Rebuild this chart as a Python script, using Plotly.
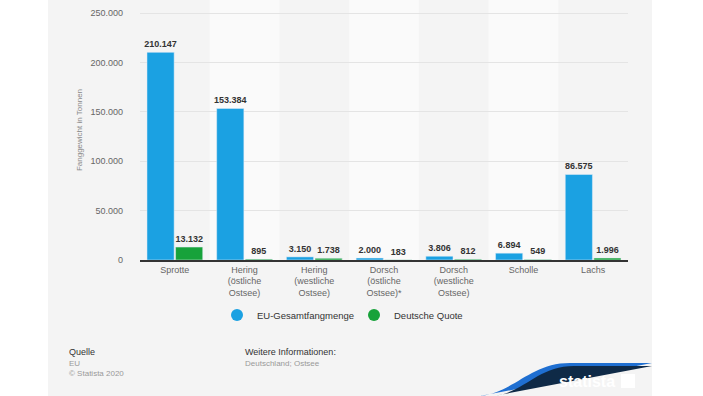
import plotly.graph_objects as go

categories = ["Sprotte", "Hering<br>(östliche<br>Ostsee)", "Hering<br>(westliche<br>Ostsee)",
              "Dorsch<br>(östliche<br>Ostsee)*", "Dorsch<br>(westliche<br>Ostsee)", "Scholle", "Lachs"]
eu_total = [210147, 153384, 3150, 2000, 3806, 6894, 86575]
de_quota = [13132, 895, 1738, 183, 812, 549, 1996]
y_ticks = [0, 50000, 100000, 150000, 200000, 250000]

W, H = 703, 396
L, R, T, B = 140, 628, 0, 260  # plot area in pixels


def px(x):
    return (x - L) / (R - L)


def py(y):
    return (B - y) / (B - T)


FONT = "Liberation Sans, Arial, sans-serif"
BLUE = "#1ba1e2"
GREEN = "#17a23a"
NAVY = "#0f2a47"

fig = go.Figure()
for name, vals, col in [("EU-Gesamtfangmenge", eu_total, BLUE), ("Deutsche Quote", de_quota, GREEN)]:
    fig.add_trace(go.Bar(name=name, x=categories, y=vals, marker_color=col, showlegend=False,
                         legendgroup=name,
                         texttemplate="<b>%{y:,d}</b>", textposition="outside", constraintext="none",
                         textfont=dict(size=9, color="#333333", family=FONT), cliponaxis=False))
for name, col in [("EU-Gesamtfangmenge", BLUE), ("Deutsche Quote", GREEN)]:
    fig.add_trace(go.Scatter(name=name, x=[categories[0]], y=[None], mode="markers", legendgroup=name,
                             marker=dict(symbol="circle", size=11, color=col), showlegend=True,
                             hoverinfo="skip"))

shapes = []
# gray page background
shapes.append(dict(type="rect", xref="paper", yref="paper", x0=px(48), x1=px(652), y0=py(396), y1=py(0),
                   fillcolor="#f4f4f4", line_width=0, layer="below"))
# alternating bands
for i in range(len(categories)):
    if i % 2 == 1:
        shapes.append(dict(type="rect", xref="x", yref="paper", x0=i - 0.5, x1=i + 0.5, y0=0, y1=1,
                           fillcolor="#fafafa", line_width=0, layer="below"))


def path(points_px):
    s = ""
    for cmd, pts in points_px:
        s += cmd + " " + " ".join(f"{px(x):.5f},{py(y):.5f}" for x, y in pts) + " "
    return s + "Z"


# statista banner
shapes.append(dict(type="path", xref="paper", yref="paper", layer="above", line_width=0, fillcolor="#1f6fd1",
                   path=path([("M", [(480, 396)]), ("C", [(515, 392), (530, 363), (570, 363)]),
                              ("L", [(652, 363), (652, 396)])])))
shapes.append(dict(type="path", xref="paper", yref="paper", layer="above", line_width=0, fillcolor=NAVY,
                   path=path([("M", [(494, 396)]), ("C", [(525, 392), (538, 366), (574, 366)]),
                              ("L", [(652, 366), (652, 396)])])))
shapes.append(dict(type="rect", xref="paper", yref="paper", layer="above", line_width=0, fillcolor="white",
                   x0=px(621), x1=px(635), y0=py(388), y1=py(374)))
shapes.append(dict(type="path", xref="paper", yref="paper", layer="above", line_width=0, fillcolor=NAVY,
                   path=path([("M", [(621, 384)]), ("L", [(628, 377), (635, 377), (635, 378), (629, 385), (621, 385)])])))

annotations = [
    dict(text="<b>statista</b>", x=px(557), y=py(381), xref="paper", yref="paper", showarrow=False,
         font=dict(size=16, color="white", family=FONT),
         xanchor="left", yanchor="middle"),
    dict(text="Quelle", x=px(67), y=py(352), xref="paper", yref="paper", showarrow=False,
         font=dict(size=9, color="#333333", family=FONT), xanchor="left", yanchor="middle"),
    dict(text="EU", x=px(67), y=py(363), xref="paper", yref="paper", showarrow=False,
         font=dict(size=8, color="#999999", family=FONT), xanchor="left", yanchor="middle"),
    dict(text="© Statista 2020", x=px(67), y=py(373), xref="paper", yref="paper", showarrow=False,
         font=dict(size=8, color="#999999", family=FONT), xanchor="left", yanchor="middle"),
    dict(text="Weitere Informationen:", x=px(243), y=py(352), xref="paper", yref="paper", showarrow=False,
         font=dict(size=9, color="#333333", family=FONT), xanchor="left", yanchor="middle"),
    dict(text="Deutschland; Ostsee", x=px(243), y=py(363), xref="paper", yref="paper", showarrow=False,
         font=dict(size=8, color="#999999", family=FONT), xanchor="left", yanchor="middle"),
]

fig.update_layout(
    width=W, height=H,
    margin=dict(l=L, r=W - R, t=T, b=H - B, autoexpand=False),
    paper_bgcolor="white", plot_bgcolor="rgba(0,0,0,0)",
    separators=",.",
    barmode="group", bargap=0.18, bargroupgap=0.05,
    font=dict(family=FONT, color="#666666"),
    shapes=shapes, annotations=annotations,
    legend=dict(orientation="h", x=px(354), y=py(315), xanchor="center", yanchor="middle",
                font=dict(size=9.5, color="#333333", family=FONT), bgcolor="rgba(0,0,0,0)",
                itemsizing="constant", entrywidth=92),
    showlegend=True,
    hovermode=False,
)
fig.update_xaxes(showgrid=False, showline=True, linecolor="#333333", linewidth=1.5,
                 tickfont=dict(size=9, color="#666666", family=FONT), ticks="", automargin=False)
fig.update_yaxes(range=[0, 250000 * 260 / 247], tickvals=y_ticks, tickformat=",d",
                 showgrid=True, gridcolor="#e4e4e4", gridwidth=1, zeroline=False, showline=False,
                 tickfont=dict(size=9, color="#666666", family=FONT), ticks="", ticklabelstandoff=16,
                 title=dict(text="Fanggewicht in Tonnen", font=dict(size=8, color="#888888", family=FONT), standoff=6),
                 automargin=False)

fig.write_html("out.html", config={"displayModeBar": False},
               post_script="document.body.style.margin='0px';")
